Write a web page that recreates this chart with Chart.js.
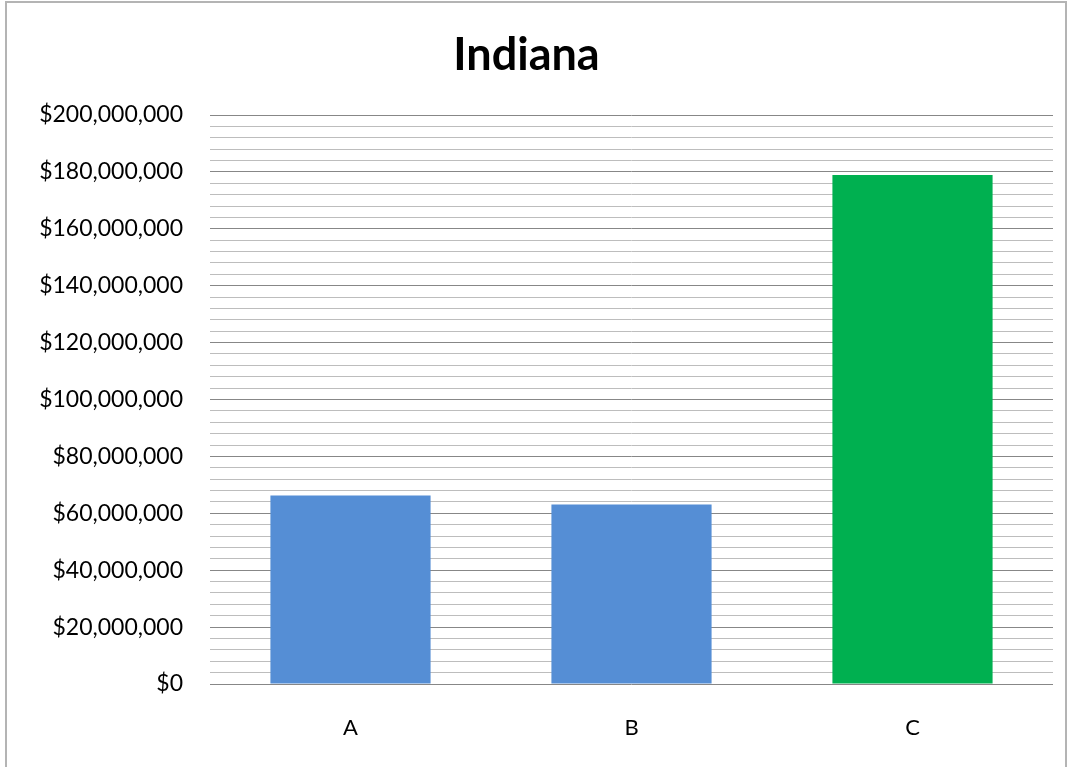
<!DOCTYPE html>
<html>
<head>
<meta charset="utf-8">
<script src="https://cdn.jsdelivr.net/npm/chart.js@4"></script>
<style>
  html, body { margin: 0; padding: 0; background: #fff; overflow: hidden; }
  #wrap { position: relative; width: 1071px; height: 767px; }
  #frame { position: absolute; left: 5px; top: 1px; width: 1062px; height: 800px; border: 2px solid #b4b4b4; box-sizing: border-box; }
  canvas { position: absolute; left: 0; top: 0; }
</style>
</head>
<body>
<div id="wrap">
  <div id="frame"></div>
  <canvas id="c" width="1071" height="767"></canvas>
</div>
<script>
const chartTitle = "Indiana";
const categories = ["A", "B", "C"];
const values = [66300000, 63100000, 178900000];
const yMin = 0;
const yMax = 200000000;
const majorStep = 20000000;
const minorStep = 4000000;

const fmt = v => "$" + Math.round(v).toLocaleString("en-US");

new Chart(document.getElementById("c"), {
  type: "bar",
  data: {
    labels: categories,
    datasets: [{
      data: values,
      backgroundColor: ["#558ED5", "#558ED5", "#00B050"],
      borderWidth: 0,
      barPercentage: 0.57,
      categoryPercentage: 1.0
    }]
  },
  options: {
    responsive: false,
    animation: false,
    devicePixelRatio: 1,
    layout: { padding: { left: 0, right: 18, top: 0, bottom: 0 } },
    plugins: {
      legend: { display: false },
      tooltip: { enabled: false },
      title: {
        display: true,
        text: chartTitle,
        color: "#000",
        font: { family: "Lato", size: 45, weight: "bold", lineHeight: 1.2 },
        padding: { top: 28, bottom: 33 }
      }
    },
    scales: {
      x: {
        grid: { display: false },
        border: { display: false },
        ticks: {
          color: "#000",
          font: { family: "Lato", size: 22 },
          padding: 23
        },
        afterFit: s => { s.height = 83; }
      },
      y: {
        min: yMin,
        max: yMax,
        border: { display: false },
        grid: {
          drawTicks: false,
          lineWidth: 1,
          color: ctx => (ctx.tick && ctx.tick.value % majorStep === 0) ? "#878787" : "#bdbdbd"
        },
        ticks: {
          stepSize: minorStep,
          autoSkip: false,
          padding: 27,
          color: "#000",
          font: { family: "Lato", size: 23 },
          callback: v => (v % majorStep === 0) ? fmt(v) : ""
        },
        afterFit: s => { s.width = 210; }
      }
    }
  }
});
</script>
</body>
</html>
